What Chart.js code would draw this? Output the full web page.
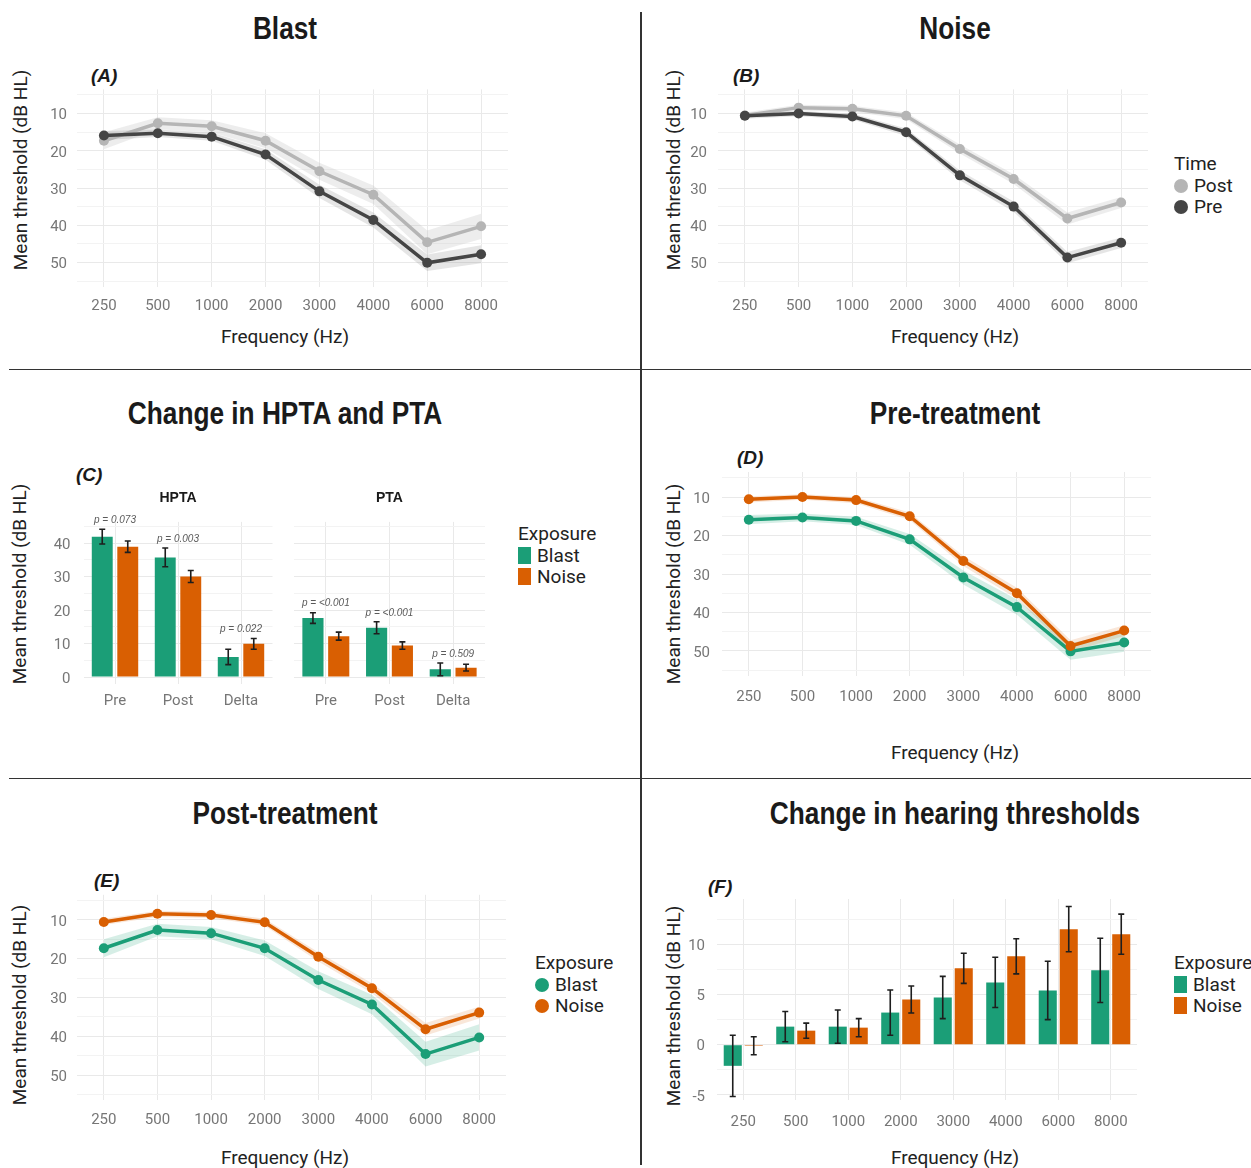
<!DOCTYPE html>
<html>
<head>
<meta charset="utf-8">
<script src="https://cdn.jsdelivr.net/npm/chart.js@4.4.1/dist/chart.umd.min.js"></script>
<style>
    body { margin: 0; background: #fff; }
    #fig { position: relative; width: 1251px; height: 1168px; overflow: hidden; background: #fff; font-family: Roboto, sans-serif; color: #222; }
    #fig canvas { position: absolute; }
    .ttl { position: absolute; transform: translate(-50%, -50%) scaleX(0.82); font-family: "Liberation Sans", sans-serif; font-weight: bold; font-size: 32px; white-space: nowrap; color: #1a1a1a; }
    .tag { position: absolute; font-family: "Liberation Sans", sans-serif; font-weight: bold; font-style: italic; font-size: 19px; line-height: 20px; color: #1a1a1a; }
    .xt { position: absolute; transform: translate(-50%, -50%); font-size: 19px; white-space: nowrap; }
    .yt { position: absolute; transform: translate(-50%, -50%) rotate(-90deg); font-size: 19px; white-space: nowrap; }
    .leg { position: absolute; font-size: 19px; line-height: 21.5px; white-space: nowrap; }
    .leg span.dot { display: inline-block; width: 14px; height: 14px; border-radius: 50%; margin-right: 6px; vertical-align: -1px; }
    .leg span.sq { display: inline-block; width: 13px; height: 17px; margin-right: 6px; vertical-align: -2px; }
    .sep { position: absolute; background: #333; }
</style>
</head>
<body>
<div id="fig">
    <div class="sep" style="left:640px;top:12px;width:1.5px;height:1153px"></div>
    <div class="sep" style="left:9px;top:368.5px;width:1242px;height:1.5px"></div>
    <div class="sep" style="left:9px;top:777.5px;width:1242px;height:1.5px"></div>

    <div class="ttl" style="left:285px;top:28px">Blast</div>
    <div class="ttl" style="left:955px;top:28px">Noise</div>
    <div class="ttl" style="left:285px;top:413px">Change in HPTA and PTA</div>
    <div class="ttl" style="left:955px;top:413px">Pre-treatment</div>
    <div class="ttl" style="left:285px;top:813px">Post-treatment</div>
    <div class="ttl" style="left:955px;top:813px">Change in hearing thresholds</div>

    <div class="tag" style="left:91px;top:66px">(A)</div>
    <div class="tag" style="left:733px;top:66px">(B)</div>
    <div class="tag" style="left:76px;top:465px">(C)</div>
    <div class="tag" style="left:737px;top:448px">(D)</div>
    <div class="tag" style="left:94px;top:871px">(E)</div>
    <div class="tag" style="left:708px;top:877px">(F)</div>

    <div class="yt" style="left:20px;top:170px">Mean threshold (dB HL)</div>
    <div class="yt" style="left:673px;top:170px">Mean threshold (dB HL)</div>
    <div class="yt" style="left:19px;top:584px">Mean threshold (dB HL)</div>
    <div class="yt" style="left:673px;top:584px">Mean threshold (dB HL)</div>
    <div class="yt" style="left:19px;top:1005px">Mean threshold (dB HL)</div>
    <div class="yt" style="left:673px;top:1006px">Mean threshold (dB HL)</div>

    <div class="xt" style="left:285px;top:336px">Frequency (Hz)</div>
    <div class="xt" style="left:955px;top:336px">Frequency (Hz)</div>
    <div class="xt" style="left:955px;top:752px">Frequency (Hz)</div>
    <div class="xt" style="left:285px;top:1157px">Frequency (Hz)</div>
    <div class="xt" style="left:955px;top:1157px">Frequency (Hz)</div>

    <div class="leg" style="left:1174px;top:153px">Time<br><span class="dot" style="background:#b5b5b5"></span>Post<br><span class="dot" style="background:#454545"></span>Pre</div>
    <div class="leg" style="left:518px;top:523px">Exposure<br><span class="sq" style="background:#1b9e77"></span>Blast<br><span class="sq" style="background:#d95f02"></span>Noise</div>
    <div class="leg" style="left:535px;top:952px">Exposure<br><span class="dot" style="background:#1b9e77"></span>Blast<br><span class="dot" style="background:#d95f02"></span>Noise</div>
    <div class="leg" style="left:1174px;top:952px">Exposure<br><span class="sq" style="background:#1b9e77"></span>Blast<br><span class="sq" style="background:#d95f02"></span>Noise</div>
</div>

<script>
// fréquences testées
const freqs = ['250', '500', '1000', '2000', '3000', '4000', '6000', '8000'];

// seuils moyens (dB HL) par exposition et par temps
const blastPre = [15.9, 15.3, 16.2, 21.0, 30.9, 38.6, 50.1, 47.8];
const blastPost = [17.3, 12.6, 13.4, 17.3, 25.5, 31.8, 44.6, 40.3];
const noisePre = [10.6, 10.0, 10.8, 15.0, 26.6, 35.0, 48.7, 44.7];
const noisePost = [10.5, 8.4, 8.7, 10.6, 19.5, 27.6, 38.2, 33.9];

// demi-largeur des bandes de confiance
const blastPreSe = [1.2, 1.0, 1.1, 1.4, 1.8, 2.0, 2.2, 2.4];
const blastPostSe = [2.3, 1.6, 1.6, 2.0, 2.3, 2.5, 3.2, 3.4];
const noisePreSe = [0.8, 0.7, 0.8, 1.0, 1.3, 1.4, 1.5, 1.4];
const noisePostSe = [0.8, 0.8, 0.8, 0.9, 1.2, 1.3, 1.6, 1.5];

// HPTA / PTA
const avgCats = ['Pre', 'Post', 'Delta'];
const hptaBlast = [41.9, 35.7, 6.0];
const hptaBlastErr = [2.2, 2.8, 2.3];
const hptaNoise = [38.9, 30.0, 9.9];
const hptaNoiseErr = [1.7, 1.8, 1.6];
const ptaBlast = [17.6, 14.7, 2.3];
const ptaBlastErr = [1.6, 1.8, 1.9];
const ptaNoise = [12.2, 9.4, 2.8];
const ptaNoiseErr = [1.2, 1.1, 1.0];
const hptaP = ['p = 0.073', 'p = 0.003', 'p = 0.022'];
const ptaP = ['p = <0.001', 'p = <0.001', 'p = 0.509'];

// changement des seuils (post - pre)
const changeBlast = [-2.1, 1.8, 1.8, 3.2, 4.7, 6.2, 5.4, 7.4];
const changeBlastErr = [3.05, 1.5, 1.65, 2.25, 2.1, 2.5, 2.9, 3.2];
const changeNoise = [-0.1, 1.4, 1.7, 4.5, 7.6, 8.8, 11.5, 11.0];
const changeNoiseErr = [0.9, 0.75, 0.9, 1.35, 1.5, 1.75, 2.25, 2.0];

// graduations affichées et lignes de grille
const thresholdTicks = [10, 20, 30, 40, 50];
const thresholdGrid = [5, 10, 15, 20, 25, 30, 35, 40, 45, 50, 55];
const avgTicks = [0, 10, 20, 30, 40];
const avgGrid = [0, 5, 10, 15, 20, 25, 30, 35, 40, 45];
const changeTicks = [-5, 0, 5, 10];
const changeGrid = [-5, -2.5, 0, 2.5, 5, 7.5, 10, 12.5];

const GREEN = '#1b9e77';
const ORANGE = '#d95f02';
const DARK = '#454545';
const LIGHT = '#b5b5b5';
const gridMajor = '#e9e9e9';
const gridMinor = '#f3f3f3';
const tickColor = '#767676';
const tickFont = { family: 'Roboto', size: 15 };

const fig = document.getElementById('fig');

function addCanvas(box) {
    const c = document.createElement('canvas');
    c.width = box.w;
    c.height = box.h;
    c.style.left = box.left + 'px';
    c.style.top = box.top + 'px';
    fig.appendChild(c);
    return c.getContext('2d');
}

// barres d'erreur dessinées avec l'échelle y du graphique
const errorBars = {
    id: 'errorBars',
    afterDatasetsDraw(chart) {
        const { ctx } = chart;
        const ys = chart.scales.y;
        chart.data.datasets.forEach((ds, i) => {
            if (!ds.errors) return;
            const meta = chart.getDatasetMeta(i);
            ctx.save();
            ctx.strokeStyle = '#1e1e1e';
            ctx.lineWidth = 1.6;
            meta.data.forEach((bar, j) => {
                const v = ds.data[j], e = ds.errors[j];
                const top = ys.getPixelForValue(v + e);
                const bot = ys.getPixelForValue(v - e);
                ctx.beginPath();
                ctx.moveTo(bar.x, top); ctx.lineTo(bar.x, bot);
                ctx.moveTo(bar.x - 3, top); ctx.lineTo(bar.x + 3, top);
                ctx.moveTo(bar.x - 3, bot); ctx.lineTo(bar.x + 3, bot);
                ctx.stroke();
            });
            ctx.restore();
        });
    }
};

// valeurs p au-dessus de chaque groupe
const pLabels = {
    id: 'pLabels',
    afterDatasetsDraw(chart, args, opts) {
        if (!opts.labels) return;
        const { ctx } = chart;
        const xs = chart.scales.x, ys = chart.scales.y;
        ctx.save();
        ctx.font = 'italic 10px "Liberation Sans", sans-serif';
        ctx.fillStyle = '#5a5a5a';
        ctx.textAlign = 'center';
        ctx.textBaseline = 'bottom';
        opts.labels.forEach((t, j) => {
            let top = Infinity;
            chart.data.datasets.forEach(ds => {
                top = Math.min(top, ys.getPixelForValue(ds.data[j] + (ds.errors ? ds.errors[j] : 0)));
            });
            ctx.fillText(t, xs.getPixelForValue(j), top - 4);
        });
        ctx.restore();
    }
};

function yScale(box, area, o) {
    return {
        min: o.min, max: o.max, reverse: !!o.reverse,
        border: { display: false },
        grid: {
            drawTicks: false,
            color: c => (c.tick && c.tick.value % o.major === 0) ? gridMajor : gridMinor
        },
        ticks: {
            display: o.labels !== null,
            autoSkip: false,
            padding: o.pad,
            labelOffset: 2,
            color: tickColor, font: tickFont,
            callback: v => (o.labels && o.labels.includes(v)) ? String(v) : ''
        },
        afterBuildTicks: s => { s.ticks = o.grid.map(v => ({ value: v })); },
        afterFit: s => { s.width = area.l - box.left; }
    };
}

function xScale(box, area, pad) {
    return {
        offset: true,
        border: { display: false },
        grid: { offset: false, drawTicks: false, color: gridMajor },
        ticks: { padding: pad, color: tickColor, font: tickFont, autoSkip: false, maxRotation: 0 },
        afterFit: s => { s.height = box.top + box.h - area.b; }
    };
}

function lineSet(vals, color) {
    return {
        data: vals, borderColor: color, backgroundColor: color,
        pointBackgroundColor: color, pointBorderWidth: 0, pointRadius: 5,
        borderWidth: 3.5, tension: 0, fill: false, order: 0
    };
}

function bandSets(vals, se, color) {
    return [
        { data: vals.map((v, i) => v - se[i]), borderWidth: 0, pointRadius: 0, fill: false, order: 5 },
        { data: vals.map((v, i) => v + se[i]), borderWidth: 0, pointRadius: 0, fill: '-1', backgroundColor: color, order: 5 }
    ];
}

function linePanel(box, area, lines, bands, xpad, ypad) {
    const ctx = addCanvas(box);
    return new Chart(ctx, {
        type: 'line',
        data: { labels: freqs, datasets: [...lines, ...bands] },
        options: {
            responsive: false, animation: false,
            layout: { padding: { top: area.t - box.top, right: box.left + box.w - area.r, left: 0, bottom: 0 } },
            plugins: { legend: { display: false }, tooltip: { enabled: false } },
            scales: {
                x: xScale(box, area, xpad),
                y: yScale(box, area, { min: 3.5, max: 56.5, reverse: true, major: 10, pad: ypad, labels: thresholdTicks, grid: thresholdGrid })
            }
        }
    });
}

function barPanel(box, area, labels, sets, opts) {
    const ctx = addCanvas(box);
    const titleH = opts.title ? 16.8 + opts.titlePad.top + opts.titlePad.bottom : 0;
    return new Chart(ctx, {
        type: 'bar',
        data: { labels: labels, datasets: sets },
        plugins: [errorBars, pLabels],
        options: {
            responsive: false, animation: false,
            layout: { padding: { top: area.t - box.top - titleH, right: box.left + box.w - area.r, left: 0, bottom: 0 } },
            plugins: {
                legend: { display: false }, tooltip: { enabled: false },
                title: {
                    display: !!opts.title, text: opts.title, fullSize: false,
                    color: '#1a1a1a', font: { family: 'Liberation Sans', size: 14, weight: 'bold' },
                    padding: opts.titlePad
                },
                pLabels: { labels: opts.pvals || null }
            },
            scales: {
                x: xScale(box, area, opts.xpad),
                y: yScale(box, area, opts.y)
            }
        }
    });
}

function barSet(vals, errs, color, cat, bar) {
    return { data: vals, errors: errs, backgroundColor: color, borderWidth: 0, categoryPercentage: cat, barPercentage: bar };
}

// (A) Blast : pre vs post
linePanel({ left: 0, top: 60, w: 520, h: 300 }, { l: 77, r: 508, t: 89.4, b: 286.6 },
    [lineSet(blastPre, DARK), lineSet(blastPost, LIGHT)],
    [...bandSets(blastPre, blastPreSe, 'rgba(110,110,110,0.18)'), ...bandSets(blastPost, blastPostSe, 'rgba(190,190,190,0.28)')],
    10.4, 10);

// (B) Noise : pre vs post
linePanel({ left: 645, top: 60, w: 520, h: 300 }, { l: 718, r: 1148, t: 89.4, b: 286.6 },
    [lineSet(noisePre, DARK), lineSet(noisePost, LIGHT)],
    [...bandSets(noisePre, noisePreSe, 'rgba(110,110,110,0.18)'), ...bandSets(noisePost, noisePostSe, 'rgba(190,190,190,0.28)')],
    10.4, 11);

// (C) HPTA et PTA
const cTitlePad = { top: 9.6, bottom: 15.5 };
barPanel({ left: 0, top: 480, w: 285, h: 240 }, { l: 83.5, r: 272.5, t: 521.9, b: 684.4 }, avgCats,
    [barSet(hptaBlast, hptaBlastErr, GREEN, 0.81, 0.82), barSet(hptaNoise, hptaNoiseErr, ORANGE, 0.81, 0.82)],
    { title: 'HPTA', titlePad: cTitlePad, pvals: hptaP, xpad: 7.6,
      y: { min: -2.2, max: 46.3, major: 10, pad: 13, labels: avgTicks, grid: avgGrid } });
barPanel({ left: 285, top: 480, w: 215, h: 240 }, { l: 294, r: 485, t: 521.9, b: 684.4 }, avgCats,
    [barSet(ptaBlast, ptaBlastErr, GREEN, 0.81, 0.82), barSet(ptaNoise, ptaNoiseErr, ORANGE, 0.81, 0.82)],
    { title: 'PTA', titlePad: cTitlePad, pvals: ptaP, xpad: 7.6,
      y: { min: -2.2, max: 46.3, major: 10, pad: 0, labels: null, grid: avgGrid } });

// (D) Pre-treatment : blast vs noise
linePanel({ left: 645, top: 440, w: 520, h: 330 }, { l: 722, r: 1151, t: 472, b: 676 },
    [lineSet(noisePre, ORANGE), lineSet(blastPre, GREEN)],
    [...bandSets(noisePre, noisePreSe, 'rgba(217,95,2,0.15)'), ...bandSets(blastPre, blastPreSe, 'rgba(27,158,119,0.18)')],
    12, 12);

// (E) Post-treatment : blast vs noise
linePanel({ left: 0, top: 860, w: 530, h: 308 }, { l: 77, r: 506, t: 894.8, b: 1100.2 },
    [lineSet(noisePost, ORANGE), lineSet(blastPost, GREEN)],
    [...bandSets(noisePost, noisePostSe, 'rgba(217,95,2,0.15)'), ...bandSets(blastPost, blastPostSe, 'rgba(27,158,119,0.18)')],
    11, 10);

// (F) Changement des seuils
barPanel({ left: 645, top: 860, w: 520, h: 308 }, { l: 717, r: 1137, t: 899, b: 1100 }, freqs,
    [barSet(changeBlast, changeBlastErr, GREEN, 0.8, 0.86), barSet(changeNoise, changeNoiseErr, ORANGE, 0.8, 0.86)],
    { xpad: 13, y: { min: -5.5, max: 14.5, major: 5, pad: 12, labels: changeTicks, grid: changeGrid } });
</script>
</body>
</html>
